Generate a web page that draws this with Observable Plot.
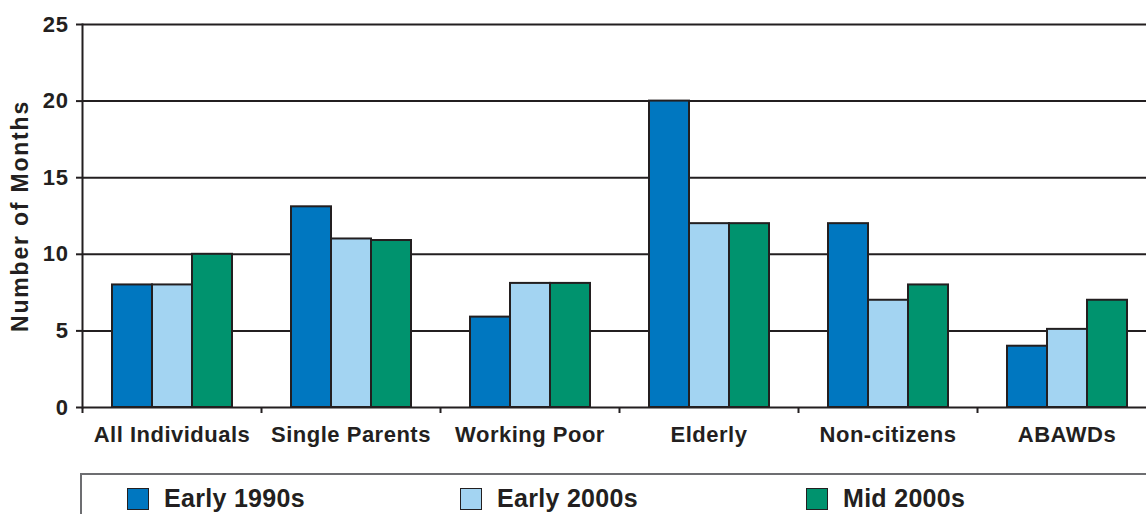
<!DOCTYPE html>
<html>
<head>
<meta charset="utf-8">
<script src="https://cdn.jsdelivr.net/npm/d3@7"></script>
<script src="https://cdn.jsdelivr.net/npm/@observablehq/plot@0.6"></script>
<style>
  html, body { margin: 0; padding: 0; background: #fff; overflow: hidden; width: 1146px; height: 514px; }
  #chart { font-family: "Liberation Sans", Arial, Helvetica, sans-serif; color: #231f20; }
  #chart svg { max-width: none !important; overflow: visible; display: block; }
  g[aria-label="y-axis tick label"] text { letter-spacing: 0.6px; }
  g[aria-label="fx-axis tick label"] text { letter-spacing: 0.5px; }
  g[aria-label="y-axis label"] text { letter-spacing: 1.8px; }
  .legend { position: relative; margin-top: 3px; margin-left: 80px; height: 60px;
    border-top: 2px solid #6d6e71; border-left: 2px solid #6d6e71; }
  .item { position: absolute; top: 9px; display: flex; align-items: center;
    font: bold 25px "Liberation Sans", Arial, sans-serif; letter-spacing: 0.3px; color: #231f20; }
  .sw { width: 20px; height: 20px; border: 1.5px solid #231f20; margin-right: 15px; }
</style>
</head>
<body>
<div id="chart"></div>
<script>
const categories = ["All Individuals", "Single Parents", "Working Poor", "Elderly", "Non-citizens", "ABAWDs"];
const seriesNames = ["Early 1990s", "Early 2000s", "Mid 2000s"];
const early1990s = [8, 13.1, 5.9, 20, 12, 4];
const early2000s = [8, 11, 8.1, 12, 7, 5.1];
const mid2000s = [10, 10.9, 8.1, 12, 8, 7];
const yTicks = [0, 5, 10, 15, 20, 25];
const colors = ["#0077c0", "#a3d4f2", "#00936e"];

const seriesValues = [early1990s, early2000s, mid2000s];
const data = [];
categories.forEach((c, i) => {
  seriesNames.forEach((s, j) => data.push({category: c, series: s, value: seriesValues[j][i]}));
});

const W = 1157, H = 470, ML = 82, MR = 1, MT = 24, MB = 63;
const step = (W - ML - MR) / categories.length;
const ink = "#231f20";

const plot = Plot.plot({
  width: W,
  height: H,
  marginLeft: ML,
  marginRight: MR,
  marginTop: MT,
  marginBottom: MB,
  style: {fontFamily: '"Liberation Sans", Arial, sans-serif', color: ink, maxWidth: "none", overflow: "visible"},
  fx: {domain: categories, padding: 0, axis: null},
  x: {domain: seriesNames, paddingInner: 0, paddingOuter: 0.7375, axis: null},
  y: {domain: [0, 25], axis: null},
  color: {domain: seriesNames, range: colors},
  marks: [
    Plot.ruleY(yTicks, {stroke: ink, strokeWidth: 2}),
    Plot.frame({anchor: "left", facetAnchor: "left", stroke: ink, strokeWidth: 2}),
    Plot.barY(data, {fx: "category", x: "series", y: "value", fill: "series", stroke: ink, strokeWidth: 2}),
    Plot.axisY({ticks: yTicks, tickSize: 6, tickPadding: 8, strokeWidth: 2, stroke: ink,
      fontSize: 22, fontWeight: "bold", label: null}),
    Plot.axisY({ticks: [], label: "Number of Months", labelAnchor: "center", labelArrow: "none", labelOffset: 71,
      fontSize: 23, fontWeight: "bold"}),
    Plot.axisFx({anchor: "bottom", tickSize: 0, tickPadding: 19, fontSize: 22, fontWeight: "bold", label: null}),
    Plot.axisFx({anchor: "bottom", tickSize: 6, strokeWidth: 2, stroke: ink, tickFormat: () => "", dx: -step / 2, label: null})
  ]
});
document.getElementById("chart").appendChild(plot);

const legend = document.createElement("div");
legend.className = "legend";
const lefts = [45, 378, 724];
seriesNames.forEach((s, i) => {
  const it = document.createElement("div");
  it.className = "item";
  it.style.left = lefts[i] + "px";
  const sw = document.createElement("div");
  sw.className = "sw";
  sw.style.background = colors[i];
  const t = document.createElement("span");
  t.textContent = s;
  it.appendChild(sw);
  it.appendChild(t);
  legend.appendChild(it);
});
document.getElementById("chart").appendChild(legend);
</script>
</body>
</html>
